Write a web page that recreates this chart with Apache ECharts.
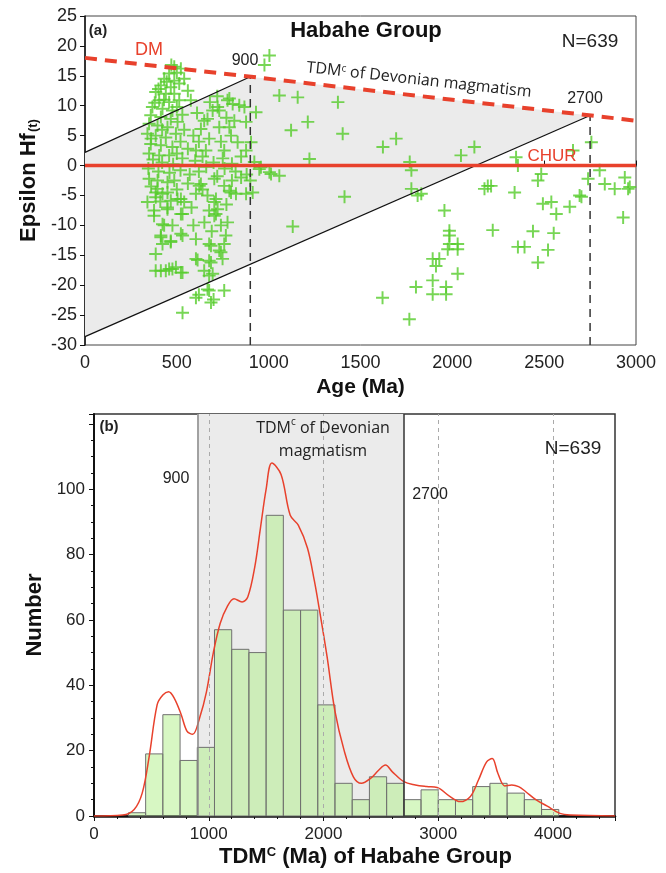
<!DOCTYPE html>
<html>
<head>
<meta charset="utf-8">
<script src="https://cdn.jsdelivr.net/npm/echarts@6/dist/echarts.min.js"></script>
<style>
  html, body { margin: 0; padding: 0; background: #fff; }
  #chart { width: 666px; height: 873px; }
</style>
</head>
<body>
<div id="chart"></div>
<script>
// (a) zircon spots: age (Ma) and epsilon Hf(t)
const ages = [
  486, 522, 458, 431, 486, 413, 467, 513, 385, 440, 486, 404, 458, 513, 367, 422, 476, 576, 358, 413,
  467, 349, 395, 449, 504, 340, 385, 440, 495, 358, 413, 476, 349, 404, 458, 631, 649, 695, 731, 776,
  676, 731, 795, 758, 658, 604, 813,
  500, 470, 445, 400, 430, 380, 500, 530, 540, 520, 560, 370, 420, 480, 530, 600, 640, 700, 750, 800,
  590, 610, 720, 560, 540, 420, 360, 500, 680, 620, 740, 770, 850, 820, 345, 400, 460, 520, 570, 620,
  660, 720, 760, 880, 900,
  804, 840, 868, 931, 877, 904, 831, 877, 949, 1004, 1058, 786, 722, 667, 786, 922, 958, 1013,
  349, 395, 449, 486, 395, 449, 340, 385, 449, 504, 540, 376, 531, 431, 413, 467, 531, 604, 385, 413,
  458, 495, 531, 604, 676, 758, 776, 767, 740, 749, 686, 649, 695, 676, 758, 604, 686, 531, 667, 704,
  676, 713, 631, 704, 758, 795, 604,
  376, 385, 422, 467, 522, 449, 522, 422, 476, 413, 467, 522, 422, 613, 676, 667, 620, 700, 676, 731,
  686, 704, 722, 713, 622, 786, 822, 877, 913, 1131, 385, 440, 476, 522,
  360, 410, 500, 560, 580, 650, 740, 690, 590, 640, 770, 850, 800,
  1004, 977, 1058, 1158, 1377, 1213, 1122, 1403, 1694, 1622, 1222, 1768, 1777, 1777, 1831, 1413, 2047, 2120, 2347, 2357,
  2484, 2466, 2657, 2757, 2802, 2739, 2830, 2884, 2939, 2957, 2193, 2175, 2339, 2693, 1811, 1957, 2493, 2539, 2566, 2639,
  2703, 2966, 2930, 1984, 1984, 1984, 2029, 1975, 2029, 2220, 2439, 2552, 2357, 2393, 2521, 2466, 1893, 1929, 1911, 2029,
  1893, 1802, 1893, 1966, 1966, 1620, 1766, 2211
];
const epsHf = [
  16.5, 16.2, 15.4, 14.5, 14.2, 13.4, 13.1, 13.7, 12.3, 12.0, 12.0, 10.9, 10.6, 10.9, 9.8, 9.5, 9.2, 10.9, 8.4, 8.1,
  7.8, 7.0, 6.7, 6.4, 7.3, 5.3, 5.0, 4.7, 5.3, 3.6, 3.4, 3.1, 2.0, 1.7, 1.7, 6.1, 7.5, 9.2, 9.2, 10.9,
  4.5, 6.4, 5.0, 2.5, 2.5, 2.5, 7.5,
  15.5, 16.8, 14.0, 12.8, 11.0, 10.5, 9.8, 8.5, 6.0, 4.0, 2.8, 1.0, 0.5, 0.2, 1.2, 0.8, 1.5, 0.5, 1.2, 0.3,
  5.0, 8.8, 11.6, 12.5, 14.5, 6.0, 4.5, 2.0, 10.6, 4.0, 4.0, 8.0, 1.5, -1.0, -0.5, -1.0, -1.2, -0.8, -1.5, -1.0,
  -0.2, -1.8, -0.5, -1.5, -2.5,
  10.3, 10.1, 9.8, 8.9, 7.3, 3.9, 3.9, 2.5, -0.6, -1.1, -1.7, 11.2, 9.8, 7.8, 6.4, 0.6, -0.3, -1.4,
  -2.2, -2.5, -2.8, -2.5, -3.9, -4.5, -6.1, -5.3, -7.3, -5.6, -6.1, -8.4, -8.1, -10.0, -11.7, -12.8, -11.7, -12.3, -14.8, -17.6,
  -17.3, -17.0, -17.9, -15.6, -13.1, -13.1, -9.5, -11.7, -14.5, -15.6, -16.2, -17.6, -18.1, -20.9, -20.9, -22.1, -22.9, -24.6, -5.0, -6.1,
  -7.5, -8.1, -3.1, -2.2, -3.4, -4.5, -4.7,
  -7.5, -4.5, -4.7, -5.9, -5.6, -7.0, -8.1, -9.8, -10.0, -12.0, -12.6, -11.4, -13.1, -15.8, -18.4, -20.7, -21.6, -22.4, -15.9, -14.2,
  -13.4, -8.4, -7.3, -5.6, -3.4, -4.2, -4.7, -4.7, -4.5, -10.2, -17.6, -17.6, -17.3, -17.9,
  -3.5, -6.0, -4.0, -3.0, -7.0, -9.5, -10.0, -11.0, -10.0, -4.0, -6.5, -2.0, -2.5,
  18.4, 16.8, 11.7, 11.4, 10.6, 7.3, 5.9, 5.3, 4.5, 3.1, 1.1, 0.6, -0.8, -3.9, -4.7, -5.2, 1.7, 3.1, 1.4, 0.0,
  -1.4, -2.5, 2.5, 3.9, -0.8, -2.2, -3.1, -3.9, -2.0, -3.9, -3.4, -3.9, -4.5, -5.0, -5.0, -7.5, -6.4, -6.1, -8.1, -6.9,
  -5.2, -3.6, -8.7, -10.9, -11.7, -13.1, -13.1, -14.0, -14.0, -10.8, -11.0, -11.3, -13.6, -13.6, -14.1, -16.2, -15.6, -15.6, -16.8, -18.1,
  -19.2, -20.3, -21.5, -21.5, -20.3, -22.1, -25.7, -3.4
];

// reference lines of panel (a)
const dmLine = [[0, 18], [3000, 7.5]];
const churLine = [[0, 0], [3000, 0]];
const upperLine = [[0, 2.2], [900, 14.85]];
const lowerLine = [[0, -28.6], [2750, 8.375]];
const tdmShade = [[0, 2.2], [900, 14.85], [2750, 8.375], [0, -28.6]];
const tdm900 = [[900, -30], [900, 14.85]];
const tdm2700 = [[2750, -30], [2750, 8.375]];

// (b) TDMc histogram, 150 Ma bins
const binStart = [300, 450, 600, 750, 900, 1050, 1200, 1350, 1500, 1650, 1800, 1950, 2100, 2250, 2400, 2550, 2700, 2850, 3000, 3150, 3300, 3450, 3600, 3750, 3900];
const binCount = [1, 19, 31, 17, 21, 57, 51, 50, 92, 63, 63, 34, 10, 5, 12, 10, 5, 8, 5, 5, 9, 10, 7, 5, 2];
const binWidth = 150;

// probability density curve (scaled to counts)
const kdeX = [0, 250, 350, 420, 480, 550, 600, 650, 700, 760, 810, 860, 920, 980, 1040, 1100, 1160, 1220, 1290, 1340,
  1400, 1450, 1500, 1550, 1630, 1710, 1780, 1860, 1920, 1960, 2030, 2100, 2180, 2260, 2330, 2410, 2480, 2540, 2600, 2700,
  2800, 2900, 2990, 3100, 3190, 3280, 3350, 3420, 3470, 3520, 3580, 3640, 3700, 3760, 3850, 3950, 4060, 4150, 4540];
const kdeY = [0, 0.3, 2, 7, 18, 34, 37, 38, 36, 31, 26, 25, 30, 38, 50, 59, 64, 66.5, 65.5, 67,
  76, 88, 100, 108, 104.5, 92, 89, 82, 72, 64, 49, 32, 20, 12, 10, 11.5, 14, 15.6, 13.5, 10.5,
  9.5, 9, 8.7, 6, 4.4, 6, 11, 16.5, 17.6, 13, 9.2, 9.5, 9, 7.5, 5, 3, 0.8, 0.3, 0];

const tdmArea = [900, 2700];
const guideLines = [1000, 2000, 3000, 4000];

const RED = '#e8412c';
const GREEN = '#55cc2a';
const FONT = 'Liberation Sans, Arial, sans-serif';
const plus = 'path://M0,5.1H12V6.9H0Z M5.1,0H6.9V12H5.1Z';

const chart = echarts.init(document.getElementById('chart'));

function lineSeries(data, color, width, type, z) {
  return {
    type: 'line', xAxisIndex: 0, yAxisIndex: 0, data: data, symbol: 'none', z: z || 3,
    silent: true, animation: false,
    lineStyle: { color: color, width: width, type: type || 'solid' }
  };
}

function txt(text, x, y, size, opts) {
  opts = opts || {};
  return {
    type: 'text', z: 100, x: x, y: y, rotation: opts.rotation || 0,
    style: {
      text: text, x: 0, y: 0, fill: opts.color || '#222',
      font: (opts.weight || 'normal') + ' ' + size + 'px ' + (opts.family || FONT),
      align: opts.align || 'center', verticalAlign: 'middle', rich: opts.rich,
      lineHeight: opts.lineHeight
    }
  };
}

const supRich = {
  a: { fontSize: 16, fontFamily: 'Open Sans, sans-serif', color: '#222' },
  s: { fontSize: 10, fontFamily: 'Open Sans, sans-serif', color: '#222', verticalAlign: 'top' }
};

const plain = function (v) { return String(v); };

const option = {
  animation: false,
  backgroundColor: '#fff',
  grid: [
    { left: 85, top: 16, width: 551, height: 329, show: true, borderColor: '#444', borderWidth: 1 },
    { left: 94, top: 414, width: 521, height: 402, show: true, borderColor: '#333', borderWidth: 1.5 }
  ],
  xAxis: [
    {
      type: 'value', gridIndex: 0, min: 0, max: 3000, interval: 500,
      axisLine: { lineStyle: { color: '#111', width: 1.5 } },
      axisTick: { inside: true, length: 5, lineStyle: { color: '#111' } },
      axisLabel: { fontSize: 18, color: '#222', fontFamily: FONT, margin: 9, formatter: plain },
      splitLine: { show: false },
      name: 'Age (Ma)', nameLocation: 'middle', nameGap: 32,
      nameTextStyle: { fontSize: 21, fontWeight: 'bold', color: '#111', fontFamily: FONT }
    },
    {
      type: 'value', gridIndex: 1, min: 0, max: 4540, interval: 1000,
      axisLine: { lineStyle: { color: '#111', width: 2.5 } },
      axisTick: { length: 5, lineStyle: { color: '#111' } },
      minorTick: { show: true, splitNumber: 5, length: 3, lineStyle: { color: '#111' } },
      axisLabel: { fontSize: 17, color: '#222', fontFamily: FONT, margin: 10,
        formatter: function (v) { return v % 1000 === 0 ? String(v) : ''; } },
      splitLine: { show: false },
      name: 'TDM{s|C} (Ma) of Habahe Group', nameLocation: 'middle', nameGap: 30,
      nameTextStyle: { fontSize: 22, fontWeight: 'bold', color: '#111', fontFamily: FONT, padding: [0, 0, 0, 22],
        rich: { s: { fontSize: 13, fontWeight: 'bold', color: '#111', fontFamily: FONT, verticalAlign: 'top' } } }
    }
  ],
  yAxis: [
    {
      type: 'value', gridIndex: 0, min: -30, max: 25, interval: 5,
      axisLine: { lineStyle: { color: '#111', width: 1.5 } },
      axisTick: { length: 5, lineStyle: { color: '#111' } },
      axisLabel: { fontSize: 18, color: '#222', fontFamily: FONT, margin: 8, formatter: plain },
      splitLine: { show: false },
      name: 'Epsilon Hf{sub|(t)}', nameLocation: 'middle', nameGap: 42,
      nameTextStyle: { fontSize: 22, fontWeight: 'bold', color: '#111', fontFamily: FONT,
        rich: { sub: { fontSize: 13, fontWeight: 'bold', color: '#111', fontFamily: FONT, verticalAlign: 'bottom', padding: [8, 0, 0, 1] } } }
    },
    {
      type: 'value', gridIndex: 1, min: 0, max: 123, interval: 20,
      axisLine: { lineStyle: { color: '#111', width: 2 } },
      axisTick: { length: 5, lineStyle: { color: '#111' } },
      minorTick: { show: true, splitNumber: 4, length: 3, lineStyle: { color: '#111' } },
      axisLabel: { fontSize: 17, color: '#222', fontFamily: FONT, margin: 9,
        formatter: function (v) { return v % 20 === 0 && v <= 100 ? String(v) : ''; } },
      splitLine: { show: false },
      name: 'Number', nameLocation: 'middle', nameGap: 48,
      nameTextStyle: { fontSize: 22, fontWeight: 'bold', color: '#111', fontFamily: FONT }
    }
  ],
  series: [
    // shaded TDM region, panel (a)
    {
      type: 'custom', xAxisIndex: 0, yAxisIndex: 0, z: 1, silent: true, data: [0],
      renderItem: function (params, api) {
        return {
          type: 'polygon',
          shape: { points: tdmShade.map(function (p) { return api.coord(p); }) },
          style: { fill: '#ebebeb' }
        };
      }
    },
    {
      type: 'scatter', xAxisIndex: 0, yAxisIndex: 0, z: 2, silent: true,
      symbol: plus, symbolSize: 13,
      itemStyle: { color: GREEN },
      data: ages.map(function (a, i) { return [a, epsHf[i]]; })
    },
    lineSeries(upperLine, '#111', 1.2),
    lineSeries(lowerLine, '#111', 1.2),
    lineSeries(tdm900, '#333', 1.5, [8, 6]),
    lineSeries(tdm2700, '#333', 1.5, [8, 6]),
    lineSeries(churLine, RED, 3.5, 'solid', 4),
    lineSeries(dmLine, RED, 4, [12, 8], 4),

    // panel (b) background: TDM band and guide lines
    {
      type: 'line', xAxisIndex: 1, yAxisIndex: 1, z: 1, silent: true, symbol: 'none',
      data: [[0, 0]], lineStyle: { opacity: 0 },
      markArea: {
        silent: true, itemStyle: { color: '#ebebeb' },
        data: [[{ xAxis: tdmArea[0] }, { xAxis: tdmArea[1] }]]
      },
      markLine: {
        silent: true, symbol: 'none', label: { show: false },
        data: guideLines.map(function (v) {
          return { xAxis: v, lineStyle: { color: '#aaa', type: [4, 4], width: 1 } };
        }).concat([
          { xAxis: tdmArea[0], lineStyle: { color: '#888', type: 'solid', width: 1.5 } },
          { xAxis: tdmArea[1], lineStyle: { color: '#333', type: 'solid', width: 1.5 } }
        ])
      }
    },
    {
      type: 'custom', xAxisIndex: 1, yAxisIndex: 1, z: 3, silent: true,
      data: binStart.map(function (s, i) { return [s, s + binWidth, binCount[i]]; }),
      encode: { x: [0, 1], y: 2 },
      renderItem: function (params, api) {
        const p0 = api.coord([api.value(0), api.value(2)]);
        const p1 = api.coord([api.value(1), 0]);
        return {
          type: 'rect',
          shape: { x: p0[0], y: p0[1], width: p1[0] - p0[0], height: p1[1] - p0[1] },
          style: { fill: 'rgba(172,238,130,0.48)', stroke: '#707070', lineWidth: 1 }
        };
      }
    },
    {
      type: 'line', xAxisIndex: 1, yAxisIndex: 1, z: 4, silent: true, symbol: 'none', smooth: 0.35,
      lineStyle: { color: RED, width: 1.5 },
      data: kdeX.map(function (x, i) { return [x, kdeY[i]]; })
    }
  ],
  graphic: [
    txt('(a)', 98, 31, 15, { weight: 'bold' }),
    txt('Habahe Group', 366, 31, 22, { weight: 'bold', color: '#111' }),
    txt('N=639', 590, 42, 19),
    txt('DM', 149, 50, 18, { color: RED }),
    txt('900', 245, 61, 16),
    txt('2700', 585, 99, 16),
    txt('CHUR', 552, 156, 17, { color: RED }),
    txt('{a|TDM}{s|c}{a| of Devonian magmatism}', 419, 80, 16, { rotation: -6.3 * Math.PI / 180, rich: supRich }),

    txt('(b)', 109, 427, 15, { weight: 'bold' }),
    txt('900', 176, 479, 16),
    txt('2700', 430, 495, 16),
    txt('N=639', 573, 449, 19),
    txt('{a|TDM}{s|c}{a| of Devonian}\n{a|magmatism}', 323, 440, 16, { rich: supRich, lineHeight: 23 })
  ]
};

chart.setOption(option);
</script>
</body>
</html>
